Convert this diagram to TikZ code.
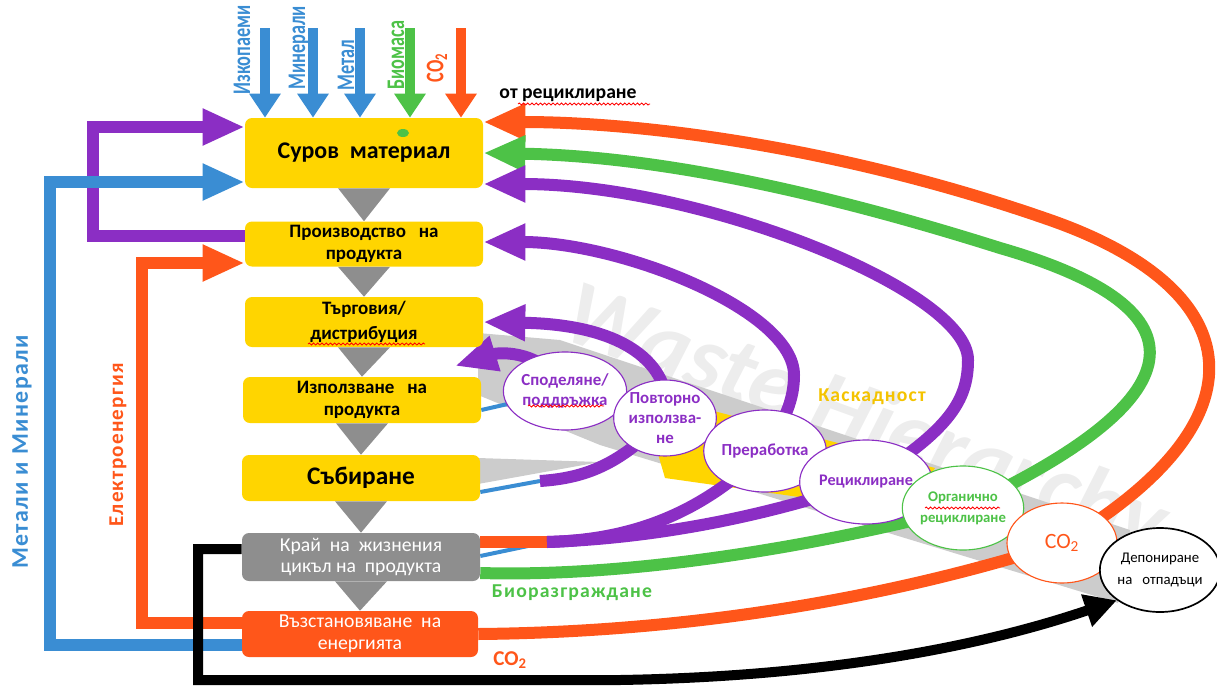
\documentclass[tikz,border=0pt]{standalone}
\usepackage{fontspec}
\setmainfont{Carlito}
\newfontfamily\narrowfont{Carlito}[FakeStretch=0.72]
\newfontfamily\widefont{Carlito}[LetterSpace=6]
\usetikzlibrary{arrows.meta,shapes.geometric,backgrounds,decorations.pathmorphing}
\newlength\pxl
\setlength\pxl{0.025cm}
\definecolor{boxyellow}{HTML}{FFD500}
\definecolor{cpurple}{HTML}{8B2EC4}
\definecolor{cgreen}{HTML}{4DC247}
\definecolor{corange}{HTML}{FF561A}
\definecolor{cblue}{HTML}{3A8DD3}
\definecolor{cgray}{HTML}{8E8E8E}
\definecolor{cascade}{HTML}{F4C300}
\tikzset{
  stage/.style={fill=boxyellow, rounded corners=7\pxl, minimum width=238\pxl,
    inner sep=0pt, align=center, font=\bfseries\fontsize{13.5}{16}\selectfont},
  loopnode/.style={ellipse, draw=cpurple, line width=0.8pt, fill=white, inner sep=0pt,
    align=center, text=cpurple, font=\bfseries\fontsize{12}{14.5}\selectfont},
  flowline/.style={line width=12\pxl},
  thinflow/.style={line width=4\pxl, cblue},
  bighead/.style={-{Triangle[length=1.05cm,width=0.85cm]}},
  tophead/.style={-{Triangle[length=0.6cm,width=0.75cm]}},
  squiggle/.style={red, line width=0.6pt, decorate,
    decoration={snake, amplitude=0.7pt, segment length=3pt}}
}
\begin{document}
\begin{tikzpicture}[x=0.025cm, y=-0.025cm]
  \useasboundingbox (0,0) rectangle (1217,686);

  % life cycle stages
  \node[stage, minimum height=70\pxl, font=\bfseries\fontsize{17}{20}\selectfont] (raw) at (364,153) {Суров\ \ материал};
  \node[stage, minimum height=45\pxl] (prod) at (364,244) {Производство\ \ \ на\\продукта};
  \node[stage, minimum height=50\pxl, font=\bfseries\fontsize{13.5}{18}\selectfont] (trade) at (364,322) {Търговия/\\дистрибуция};
  \node[stage, minimum height=46\pxl] (use) at (362,400) {Използване\ \ \ на\\продукта};
  \node[stage, minimum height=46\pxl, font=\bfseries\fontsize{18}{20}\selectfont] (collect) at (361,478) {Събиране};
  \node[stage, fill=cgray, text=white, minimum height=48\pxl, font=\fontsize{14}{15}\selectfont] (eol) at (361,557) {Край\ \ на\ \ жизнения\\цикъл на\ \ продукта};
  \node[stage, fill=corange, text=white, minimum height=46\pxl, minimum width=236\pxl, font=\fontsize{14}{16}\selectfont] (energy) at (360,634) {Възстановяване\ \ на\\енергията};

  \foreach \a/\b in {raw/prod, prod/trade, trade/use, use/collect, collect/eol, eol/energy}
    \fill[cgray] ([xshift=-26\pxl]\a.south) -- ([xshift=26\pxl]\a.south) -- (\b.north) -- cycle;

  % waste hierarchy loops
  \node[loopnode, minimum width=96\pxl, minimum height=78\pxl] (share) at (565,391) {Споделяне/\\поддръжка};
  \node[loopnode, minimum width=96\pxl, minimum height=76\pxl] (reuse) at (665,418) {Повторно\\използва-\\не};
  \node[loopnode, minimum width=104\pxl, minimum height=82\pxl] (remanuf) at (765,451) {Преработка};
  \node[loopnode, minimum width=108\pxl, minimum height=84\pxl, font=\bfseries\fontsize{11.5}{14}\selectfont] (recycl) at (866,482) {Рециклиране};
  \node[loopnode, draw=cgreen, text=cgreen, minimum width=106\pxl, minimum height=84\pxl, font=\bfseries\fontsize{10.5}{15}\selectfont] (organic) at (963,508) {Органично\\рециклиране};
  \node[loopnode, draw=corange, text=corange, minimum width=110\pxl, minimum height=80\pxl, font=\fontsize{15.5}{15}\selectfont] (co2c) at (1062,543) {CO\textsubscript{2}};
  \node[loopnode, draw=black, text=black, line width=1.2pt, minimum width=112\pxl, minimum height=84\pxl, font=\fontsize{10.5}{16}\selectfont] (landfill) at (1160,570) {Депониране\\на\ \ \ отпадъци};

  \coordinate (usetip) at (455,366);
  \coordinate (collectjoin) at (540,481);
  \coordinate (eoljoin) at (547,542);

  \begin{pgfonlayer}{background}
    \node[text=black!7, font=\bfseries\itshape\fontsize{66}{66}\selectfont, rotate=-20, anchor=west] (mark) at (562,312) {Waste Hierarchy};
    \fill[black!20] (478,333) -- (560,340) -- (1130,530) -- (1118,603) -- (600,445) -- (478,395) -- cycle;
    \fill[black!20] (478,458) -- (600,462) -- (478,484) -- cycle;
    \fill[boxyellow] (640,392) -- (935,468) -- (905,512) -- (665,478) -- cycle;

    \draw[thinflow] (use.east |- 0,410) -- (share.center);
    \draw[thinflow] (collect.east |- 0,492) -- (collectjoin);
    \draw[thinflow] (eol.east |- 0,556) -- (eoljoin);
    \draw[flowline, corange] (eol.east |- 0,542) -- (eoljoin);

    \draw[flowline, corange, bighead] (energy.east) .. controls (700,632) and (900,595) .. (co2c.center)
      .. controls (1270,420) and (1250,290) .. (1050,220) .. controls (850,150) and (650,122) .. (raw.east |- 0,122);
    \draw[flowline, cgreen, bighead] (eol.east |- 0,573) .. controls (650,578) and (850,538) .. (organic.center)
      .. controls (1195,400) and (1215,310) .. (1000,248) .. controls (810,188) and (650,156) .. (raw.east);
    \draw[flowline, cpurple, bighead] (recycl.center) .. controls (950,430) and (968,400) .. (968,360)
      .. controls (968,290) and (700,184) .. (raw.east |- 0,184);
    \draw[flowline, cpurple, bighead] (remanuf.center) .. controls (785,420) and (794,400) .. (794,375)
      .. controls (794,310) and (620,242) .. (prod.east |- 0,242);
    \draw[flowline, cpurple, bighead] (reuse.center) .. controls (674,380) and (645,325) .. (trade.east |- 0,322);
    \draw[flowline, cpurple, bighead] (share.center) .. controls (545,350) and (500,352) .. (usetip);
    \draw[flowline, cpurple] (collectjoin) .. controls (585,478) and (620,465) .. (reuse.center);
    \draw[flowline, cpurple] (eoljoin) .. controls (630,540) and (700,515) .. (remanuf.center);
    \draw[flowline, cpurple] (eoljoin) .. controls (660,538) and (770,515) .. (recycl.center);
  \end{pgfonlayer}

  % inputs from the top
  \foreach \x/\c in {265/cblue, 313/cblue, 360/cblue, 410/cgreen, 461/corange}
    \draw[line width=10\pxl, \c, tophead] (\x,28) -- (\x,0 |- raw.north);
  \node[rotate=90, text=cblue, font=\narrowfont\bfseries\fontsize{18}{18}\selectfont] (fossil) at (242,50) {Изкопаеми};
  \node[rotate=90, text=cblue, font=\narrowfont\bfseries\fontsize{18}{18}\selectfont] (mineral) at (299,48) {Минерали};
  \node[rotate=90, text=cblue, font=\narrowfont\bfseries\fontsize{18}{18}\selectfont] (metal) at (346,65) {Метал};
  \node[rotate=90, text=cgreen, font=\narrowfont\bfseries\fontsize{18}{18}\selectfont] (biomass) at (396,55) {Биомаса};
  \node[rotate=90, text=corange, font=\narrowfont\bfseries\fontsize{18}{18}\selectfont] (co2in) at (437,68) {CO\textsubscript{2}};
  \node[font=\bfseries\fontsize{14}{14}\selectfont] (fromrec) at (568,95) {от рециклиране};
  \draw[squiggle] (518,104) -- (650,104);
  \fill[cgreen] (403,133) ellipse [x radius=6\pxl, y radius=4\pxl];

  % loops on the left
  \draw[flowline, cpurple, bighead] (prod.west |- 0,236) -- (93,236) -- (93,127) -- (raw.west |- 0,127);
  \draw[flowline, cblue, bighead] (energy.west |- 0,645) -- (50,645) -- (50,182) -- (raw.west |- 0,182);
  \draw[flowline, corange, bighead] (energy.west |- 0,623) -- (142,623) -- (142,263) -- (prod.west |- 0,263);
  \draw[line width=10\pxl, -{Triangle[length=0.8cm,width=0.8cm]}] (eol.west |- 0,549) -- (198,549) -- (198,680) -- (620,680)
    .. controls (850,676) and (1000,640) .. (landfill.south west);
  \node[rotate=90, text=cblue, font=\widefont\bfseries\fontsize{17}{17}\selectfont] (metmin) at (22,452) {Метали и Минерали};
  \node[rotate=90, text=corange, font=\widefont\bfseries\fontsize{15}{15}\selectfont] (elec) at (118,445) {Електроенергия};

  % other labels
  \node[text=cascade, font=\widefont\bfseries\fontsize{14}{14}\selectfont] (cascadelbl) at (872,397) {Каскадност};
  \node[text=cgreen, font=\widefont\bfseries\fontsize{14}{14}\selectfont] (biolbl) at (572,593) {Биоразграждане};
  \node[text=corange, font=\bfseries\fontsize{15}{15}\selectfont] (co2out) at (510,660) {CO\textsubscript{2}};
  \draw[squiggle] (308,344) -- (425,344);
  \draw[squiggle] (528,406) -- (604,406);
  \draw[squiggle] (925,508) -- (1000,508);
\end{tikzpicture}
\end{document}
